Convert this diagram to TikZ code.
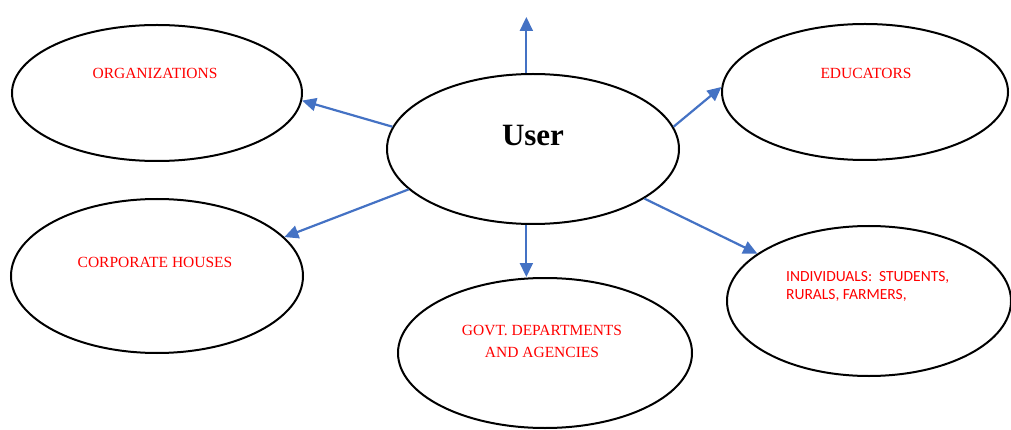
\documentclass[tikz,border=0pt]{standalone}
\usepackage{fontspec}
\setmainfont{Liberation Serif}
\newfontfamily\calib{Carlito}
\usetikzlibrary{shapes.geometric,arrows.meta}
\definecolor{linkblue}{HTML}{4472C4}
\definecolor{labelred}{HTML}{FF0000}
\tikzset{
  bubble/.style={draw=black, line width=2pt, ellipse, inner sep=0pt},
  tag/.style={text=labelred, font=\fontsize{15.5}{21}\selectfont, align=center, inner sep=0pt},
  link/.style={draw=linkblue, line width=2.2pt, -{Triangle[length=14pt,width=13pt]}}
}
\begin{document}
\begin{tikzpicture}[x=1pt,y=-1pt]
\useasboundingbox (0,0) rectangle (1011,430);

% ellipses
\node[bubble, minimum width=292pt, minimum height=150pt] (user) at (533,149) {};
\node[bubble, minimum width=290pt, minimum height=136pt] (org)  at (157,93) {};
\node[bubble, minimum width=286pt, minimum height=136pt] (edu)  at (865,92) {};
\node[bubble, minimum width=292pt, minimum height=154pt] (corp) at (157,276) {};
\node[bubble, minimum width=294pt, minimum height=150pt] (govt) at (545,353) {};
\node[bubble, minimum width=284pt, minimum height=150pt] (ind)  at (869,301) {};

% labels
\node[font=\bfseries\fontsize{31}{34}\selectfont, inner sep=0pt] (usertxt) at (533,136) {User};
\node[tag] (orgtxt)  at (155,73)  {ORGANIZATIONS};
\node[tag] (edutxt)  at (866,73)  {EDUCATORS};
\node[tag] (corptxt) at (155,262) {CORPORATE HOUSES};
\node[tag, font=\fontsize{15.5}{22}\selectfont] (govttxt) at (542,341) {GOVT. DEPARTMENTS\\AND AGENCIES};
\node[tag, font=\calib\fontsize{15.5}{18}\selectfont, align=left, anchor=west] (indtxt) at (786,286)
  {INDIVIDUALS:\ \ STUDENTS,\\RURALS, FARMERS,};

% connectors
\coordinate (top) at (526,17);
\draw[link] (user.95) -- (user.95 |- top);
\draw[link] (user.171) -- (org.-3.5);
\draw[link] (user.9.4) -- (edu.178);
\draw[link] (user.198.6) -- (corp.17);
\draw[link] (user.265.4) -- (user.265.4 |- govt.north);
\draw[link] (user.-24) -- (ind.157.6);
\end{tikzpicture}
\end{document}
